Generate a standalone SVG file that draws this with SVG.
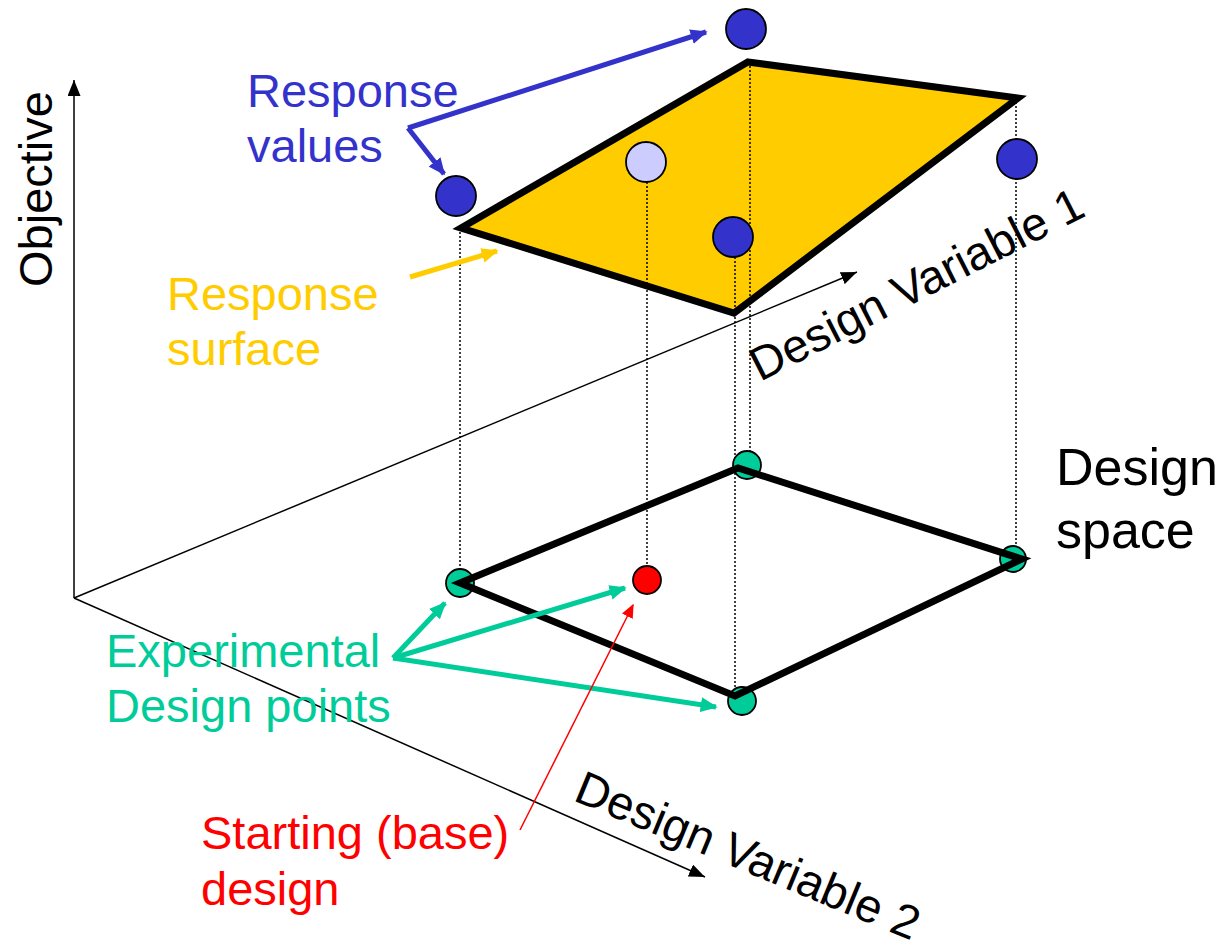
<svg xmlns="http://www.w3.org/2000/svg" width="1220" height="949" viewBox="0 0 1220 949">
  <style>
    text { font-family: "Liberation Sans", Arial, sans-serif; font-size: 47px; }
    .axis { stroke: #000; stroke-width: 1.5; fill: none; }
    .drop { stroke: #000; stroke-width: 1.5; stroke-dasharray: 2 2; fill: none; }
    .edge { stroke: #000; stroke-width: 7; fill: none; stroke-linejoin: miter; }
    .dot { stroke: #000; stroke-width: 1.8; }
    .blue { fill: #3333CC; }
    .pale { fill: #CCCCFF; }
    .green { fill: #00CC99; }
    .red { fill: #FF0000; }
  </style>
  <defs>
    <marker id="ah-axis" viewBox="0 0 10 10" refX="10" refY="5" markerWidth="16" markerHeight="13" markerUnits="userSpaceOnUse" orient="auto" preserveAspectRatio="none">
      <path d="M0,0 L10,5 L0,10 z" fill="#000"/>
    </marker>
    <marker id="ah-blue" viewBox="0 0 10 10" refX="9" refY="5" markerWidth="17" markerHeight="15" markerUnits="userSpaceOnUse" orient="auto" preserveAspectRatio="none">
      <path d="M0,0 L10,5 L0,10 z" fill="#3333CC"/>
    </marker>
    <marker id="ah-green" viewBox="0 0 10 10" refX="9" refY="5" markerWidth="17" markerHeight="15" markerUnits="userSpaceOnUse" orient="auto" preserveAspectRatio="none">
      <path d="M0,0 L10,5 L0,10 z" fill="#00CC99"/>
    </marker>
    <marker id="ah-yellow" viewBox="0 0 10 10" refX="9" refY="5" markerWidth="17" markerHeight="15" markerUnits="userSpaceOnUse" orient="auto" preserveAspectRatio="none">
      <path d="M0,0 L10,5 L0,10 z" fill="#FFCC00"/>
    </marker>
    <marker id="ah-red" viewBox="0 0 10 10" refX="9" refY="5" markerWidth="14" markerHeight="12" markerUnits="userSpaceOnUse" orient="auto" preserveAspectRatio="none">
      <path d="M0,0 L10,5 L0,10 z" fill="#FF0000"/>
    </marker>
  </defs>

  <rect width="1220" height="949" fill="#fff"/>

  <!-- coordinate axes -->
  <g id="axes">
    <line class="axis" x1="74" y1="598" x2="74" y2="80" marker-end="url(#ah-axis)"/>
    <line class="axis" x1="74" y1="598" x2="857" y2="272" marker-end="url(#ah-axis)"/>
    <line class="axis" x1="74" y1="598" x2="705" y2="877" marker-end="url(#ah-axis)"/>
    <text transform="translate(52,287) rotate(-90)">Objective</text>
    <text transform="translate(760,382) rotate(-27)">Design Variable 1</text>
    <text transform="translate(572,800) rotate(22.5)">Design Variable 2</text>
  </g>

  <!-- response surface over the design space -->
  <g id="response-surface">
    <polygon points="748,62 1018,98 734,313 461,228" fill="#FFCC00" stroke="none"/>
    <polygon class="edge" points="748,62 1018,98 734,313 461,228"/>
  </g>

  <!-- vertical projections from surface to design points -->
  <g id="projections">
    <line class="drop" x1="460" y1="228" x2="460" y2="572"/>
    <line class="drop" x1="647" y1="182" x2="647" y2="568"/>
    <line class="drop" x1="735" y1="257" x2="735" y2="690"/>
    <line class="drop" x1="750" y1="62" x2="750" y2="452"/>
    <line class="drop" x1="1016" y1="98" x2="1016" y2="548"/>
  </g>

  <!-- design space -->
  <g id="design-space">
    <circle class="dot green" cx="460" cy="583" r="14"/>
    <circle class="dot green" cx="747" cy="465" r="14"/>
    <circle class="dot green" cx="742" cy="701" r="14"/>
    <circle class="dot green" cx="1013" cy="559" r="13"/>
    <polygon class="edge" points="460,583 738,468 1022,559 735,696"/>
    <circle class="dot red" cx="647" cy="580" r="14"/>
    <text x="1056" y="485" style="font-size:52px">Design</text>
    <text x="1056" y="548" style="font-size:52px">space</text>
  </g>

  <!-- response values -->
  <g id="response-values">
    <circle class="dot blue" cx="746" cy="29" r="20"/>
    <circle class="dot blue" cx="456" cy="196" r="20"/>
    <circle class="dot pale" cx="646" cy="162" r="20"/>
    <circle class="dot blue" cx="733" cy="237" r="20"/>
    <circle class="dot blue" cx="1017" cy="159" r="20"/>
  </g>

  <!-- callout arrows -->
  <g id="connectors" fill="none">
    <line x1="408" y1="128" x2="706" y2="32" stroke="#3333CC" stroke-width="5" marker-end="url(#ah-blue)"/>
    <line x1="408" y1="128" x2="444" y2="174" stroke="#3333CC" stroke-width="5" marker-end="url(#ah-blue)"/>
    <line x1="410" y1="277" x2="497" y2="251" stroke="#FFCC00" stroke-width="5" marker-end="url(#ah-yellow)"/>
    <line x1="393" y1="658" x2="445" y2="603" stroke="#00CC99" stroke-width="5" marker-end="url(#ah-green)"/>
    <line x1="393" y1="658" x2="625" y2="588" stroke="#00CC99" stroke-width="5" marker-end="url(#ah-green)"/>
    <line x1="393" y1="658" x2="716" y2="707" stroke="#00CC99" stroke-width="5" marker-end="url(#ah-green)"/>
    <line x1="520" y1="830" x2="633" y2="605" stroke="#FF0000" stroke-width="1.5" marker-end="url(#ah-red)"/>
  </g>

  <!-- labels -->
  <g id="labels">
    <text x="247" y="107" fill="#3333CC">Response</text>
    <text x="247" y="162" fill="#3333CC">values</text>
    <text x="167" y="310" fill="#FFCC00">Response</text>
    <text x="167" y="365" fill="#FFCC00">surface</text>
    <text x="106" y="667" fill="#00CC99">Experimental</text>
    <text x="106" y="722" fill="#00CC99">Design points</text>
    <text x="201" y="849" fill="#FF0000">Starting (base)</text>
    <text x="201" y="905" fill="#FF0000">design</text>
  </g>
</svg>
